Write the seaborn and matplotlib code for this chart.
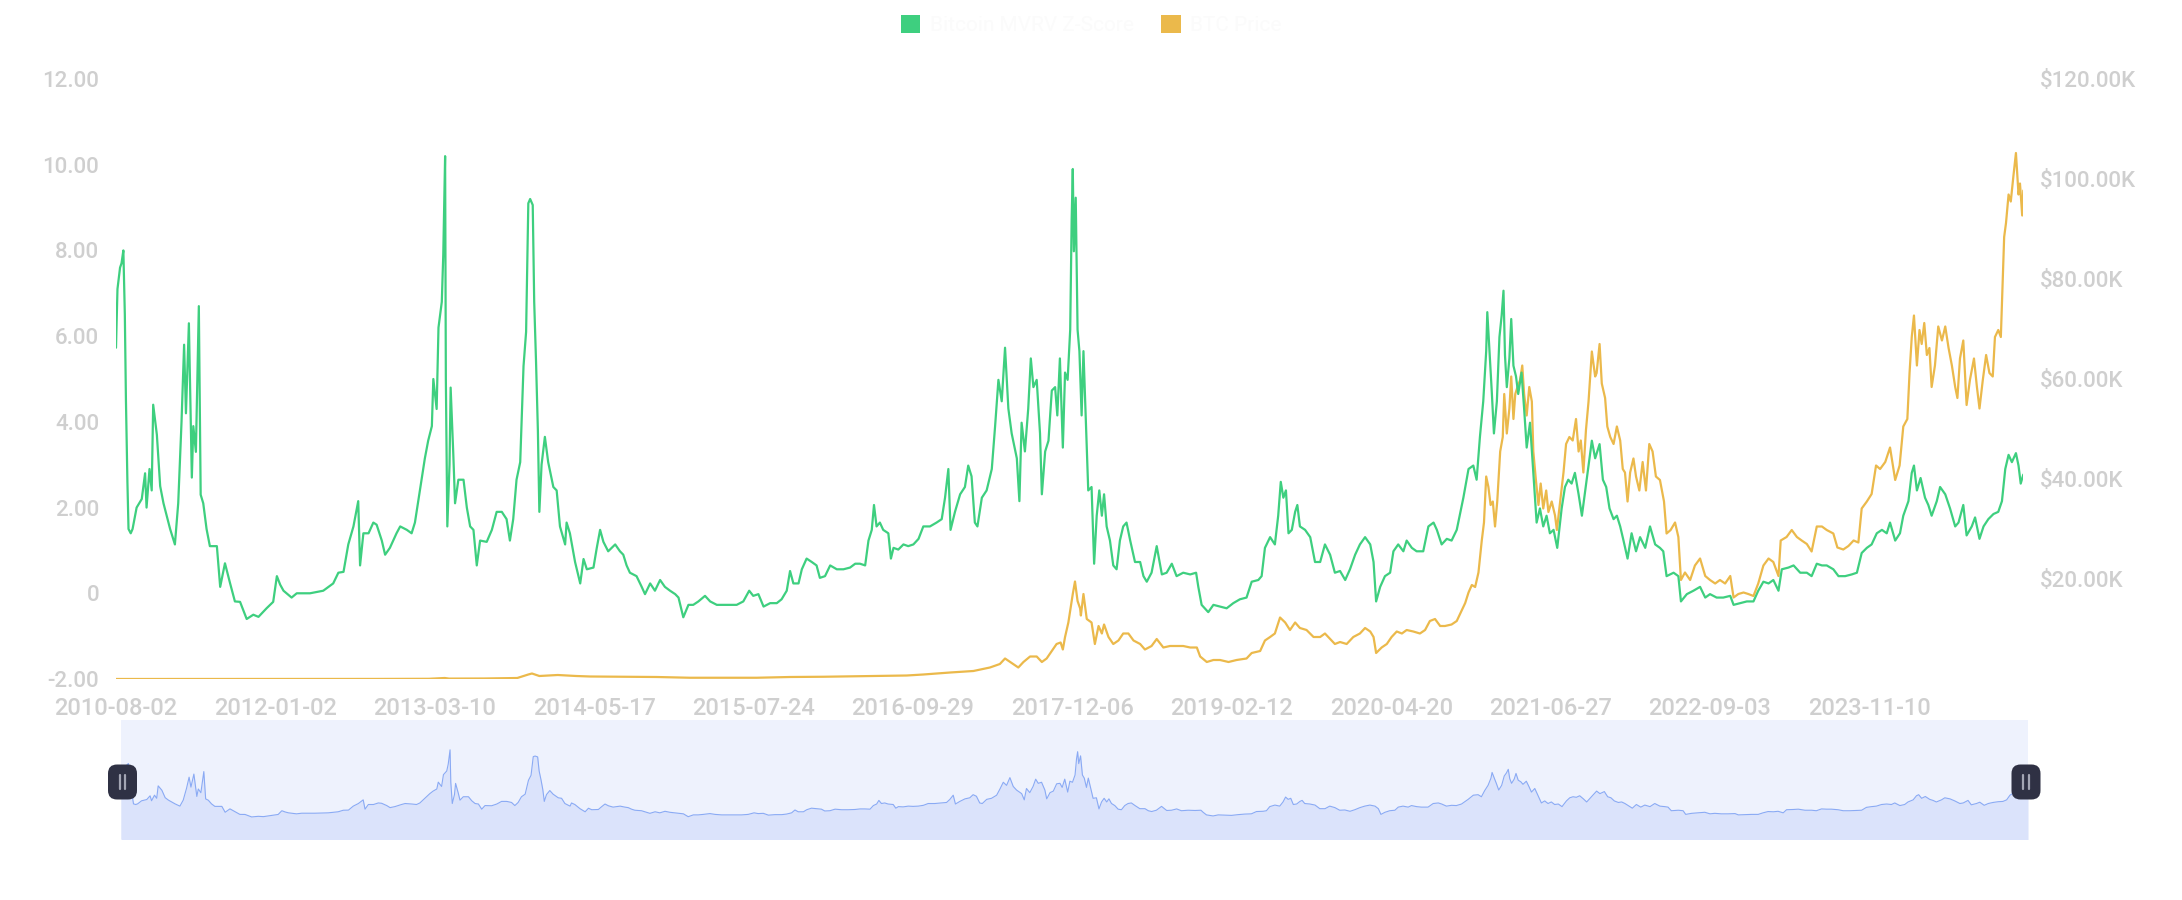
import numpy as np
import pandas as pd
import matplotlib
matplotlib.use("Agg")
import matplotlib.pyplot as plt
from matplotlib.patches import Patch, FancyBboxPatch
from matplotlib.ticker import FixedLocator, FixedFormatter
import seaborn as sns

# ---------------- data ----------------
# category index of the date axis (one category per day listed by the source)
tick_dates = ["2010-08-02", "2012-01-02", "2013-03-10", "2014-05-17", "2015-07-24",
              "2016-09-29", "2017-12-06", "2019-02-12", "2020-04-20", "2021-06-27",
              "2022-09-03", "2023-11-10"]
tick_step = 433
last_index = 5181

mvrv_idx = [0, 4, 11, 15, 20, 24, 27, 31, 34, 40, 45, 56, 70, 79, 83, 91, 97, 101, 111, 120,
            129, 138, 147, 160, 169, 178, 185, 190, 198, 206, 210, 217, 225, 230, 237, 246, 255, 274, 283, 296,
            310, 323, 337, 355, 373, 387, 409, 427, 437, 446, 455, 477, 491, 527, 563, 590, 604, 618, 631, 645,
            658, 663, 672, 686, 699, 708, 722, 731, 744, 762, 772, 790, 803, 812, 821, 830, 839, 848, 858, 862,
            871, 876, 885, 889, 894, 896, 900, 906, 909, 916, 921, 930, 944, 953, 962, 971, 980, 989, 1007, 1021,
            1034, 1048, 1061, 1070, 1079, 1088, 1098, 1107, 1114, 1120, 1125, 1132, 1136, 1141, 1146, 1150, 1156, 1165, 1174, 1188,
            1197, 1206, 1220, 1224, 1233, 1247, 1261, 1270, 1279, 1297, 1306, 1315, 1324, 1337, 1356, 1369, 1378, 1387, 1396, 1414,
            1428, 1437, 1451, 1464, 1478, 1491, 1505, 1519, 1528, 1541, 1555, 1568, 1582, 1600, 1614, 1632, 1650, 1668, 1686, 1704,
            1720, 1731, 1745, 1759, 1777, 1795, 1808, 1822, 1831, 1840, 1854, 1863, 1876, 1890, 1903, 1912, 1926, 1940, 1958, 1976,
            1994, 2008, 2021, 2035, 2044, 2053, 2059, 2066, 2075, 2084, 2098, 2105, 2112, 2125, 2139, 2152, 2166, 2180, 2193, 2211,
            2229, 2243, 2252, 2261, 2267, 2279, 2293, 2306, 2315, 2324, 2333, 2340, 2352, 2365, 2379, 2388, 2397, 2406, 2415, 2424,
            2433, 2447, 2454, 2460, 2469, 2478, 2485, 2492, 2501, 2510, 2515, 2524, 2533, 2542, 2551, 2557, 2564, 2572, 2578, 2585,
            2592, 2596, 2599, 2602, 2607, 2612, 2617, 2623, 2628, 2635, 2641, 2650, 2657, 2664, 2671, 2678, 2684, 2691, 2700, 2709,
            2718, 2727, 2736, 2745, 2755, 2768, 2782, 2791, 2800, 2813, 2827, 2841, 2854, 2868, 2881, 2899, 2918, 2934, 2940, 2949,
            2967, 2981, 2999, 3017, 3035, 3053, 3071, 3085, 3103, 3112, 3121, 3135, 3148, 3157, 3164, 3171, 3178, 3185, 3194, 3203,
            3209, 3216, 3230, 3244, 3257, 3271, 3284, 3298, 3311, 3325, 3339, 3352, 3366, 3379, 3393, 3407, 3416, 3423, 3434, 3447,
            3461, 3470, 3483, 3497, 3506, 3520, 3533, 3551, 3565, 3579, 3588, 3601, 3615, 3628, 3642, 3651, 3660, 3674, 3687, 3696,
            3705, 3714, 3722, 3725, 3731, 3737, 3743, 3751, 3758, 3764, 3769, 3773, 3778, 3785, 3790, 3796, 3803, 3809, 3818, 3825,
            3832, 3841, 3850, 3859, 3868, 3877, 3886, 3895, 3905, 3915, 3927, 3936, 3945, 3954, 3963, 3973, 3982, 3991, 4000, 4009,
            4018, 4030, 4039, 4048, 4057, 4068, 4077, 4086, 4095, 4106, 4117, 4129, 4140, 4154, 4167, 4181, 4194, 4203, 4212, 4231,
            4244, 4251, 4267, 4285, 4303, 4317, 4330, 4348, 4366, 4385, 4394, 4412, 4430, 4448, 4461, 4475, 4489, 4502, 4516, 4525,
            4543, 4557, 4575, 4593, 4606, 4620, 4634, 4647, 4665, 4679, 4697, 4715, 4729, 4742, 4756, 4769, 4783, 4797, 4810, 4819,
            4833, 4846, 4855, 4869, 4878, 4884, 4892, 4902, 4914, 4923, 4932, 4946, 4955, 4969, 4982, 4996, 5005, 5018, 5027, 5041,
            5050, 5062, 5073, 5086, 5100, 5113, 5123, 5132, 5141, 5150, 5161, 5168, 5174, 5181]
mvrv_val = [5.73, 7.1, 7.6, 7.7, 8.0, 6.5, 4.5, 2.6, 1.5, 1.4, 1.5, 2.0, 2.2, 2.8, 2.0, 2.9, 2.4, 4.4, 3.7, 2.5,
            2.1, 1.8, 1.5, 1.14, 2.1, 4.0, 5.8, 4.2, 6.3, 2.7, 3.9, 3.3, 6.7, 2.3, 2.1, 1.5, 1.1, 1.1, 0.15, 0.7,
            0.23, -0.19, -0.2, -0.6, -0.5, -0.55, -0.35, -0.2, 0.4, 0.2, 0.06, -0.1, 0.0, 0.0, 0.06, 0.23, 0.48, 0.5, 1.14, 1.56,
            2.15, 0.65, 1.4, 1.4, 1.65, 1.6, 1.23, 0.9, 1.06, 1.4, 1.56, 1.48, 1.4, 1.65, 2.15, 2.65, 3.15, 3.56, 3.9, 5.0,
            4.3, 6.2, 6.8, 7.9, 10.2, 5.0, 1.56, 3.0, 4.8, 3.3, 2.1, 2.65, 2.65, 2.0, 1.56, 1.48, 0.65, 1.23, 1.2, 1.48,
            1.9, 1.9, 1.73, 1.23, 1.73, 2.65, 3.06, 5.3, 6.1, 9.1, 9.2, 9.06, 6.8, 5.4, 3.8, 1.9, 3.0, 3.65, 3.06, 2.48,
            2.4, 1.56, 1.14, 1.65, 1.4, 0.73, 0.23, 0.8, 0.56, 0.6, 1.06, 1.48, 1.2, 0.98, 1.14, 0.98, 0.9, 0.65, 0.48, 0.4,
            0.15, -0.02, 0.23, 0.06, 0.31, 0.15, 0.06, -0.02, -0.1, -0.56, -0.27, -0.27, -0.19, -0.06, -0.19, -0.27, -0.27, -0.27, -0.27, -0.19,
            0.06, -0.06, -0.02, -0.31, -0.23, -0.23, -0.14, 0.06, 0.52, 0.23, 0.23, 0.56, 0.81, 0.73, 0.65, 0.36, 0.4, 0.65, 0.56, 0.56,
            0.6, 0.69, 0.69, 0.65, 1.23, 1.48, 2.06, 1.56, 1.65, 1.48, 1.4, 0.81, 1.06, 1.02, 1.14, 1.1, 1.14, 1.27, 1.56, 1.56,
            1.65, 1.73, 2.23, 2.9, 1.48, 1.9, 2.31, 2.48, 2.98, 2.73, 1.65, 1.56, 2.23, 2.4, 2.9, 3.9, 4.98, 4.48, 5.73, 4.31,
            3.73, 3.15, 2.15, 3.98, 3.31, 4.31, 5.48, 4.81, 4.98, 3.73, 2.31, 3.31, 3.56, 4.73, 4.81, 4.15, 5.48, 3.4, 5.15, 4.98,
            6.15, 8.73, 9.9, 7.98, 9.23, 6.15, 5.65, 4.15, 5.65, 3.9, 2.4, 2.48, 0.69, 1.81, 2.4, 1.81, 2.31, 1.56, 1.23, 0.65,
            0.56, 1.23, 1.56, 1.65, 1.23, 0.73, 0.73, 0.4, 0.27, 0.48, 1.1, 0.44, 0.48, 0.69, 0.4, 0.48, 0.44, 0.48, 0.15, -0.27,
            -0.44, -0.27, -0.31, -0.35, -0.23, -0.14, -0.1, 0.27, 0.31, 0.4, 1.06, 1.31, 1.14, 1.81, 2.6, 2.23, 2.4, 1.4, 1.48, 1.9,
            2.06, 1.56, 1.48, 1.31, 0.73, 0.73, 1.14, 0.9, 0.48, 0.52, 0.31, 0.56, 0.9, 1.14, 1.31, 1.14, 0.73, -0.19, 0.15, 0.4,
            0.48, 0.98, 1.14, 0.98, 1.23, 1.06, 0.98, 0.98, 1.56, 1.65, 1.48, 1.14, 1.27, 1.23, 1.48, 1.85, 2.23, 2.9, 2.98, 2.65,
            3.65, 4.48, 5.65, 6.56, 5.65, 4.73, 3.73, 4.48, 5.98, 6.48, 7.06, 5.56, 4.81, 5.48, 6.4, 5.31, 5.06, 4.65, 5.15, 4.31,
            3.4, 3.98, 2.81, 1.65, 1.98, 1.56, 1.81, 1.4, 1.48, 1.06, 1.98, 2.48, 2.65, 2.56, 2.81, 2.31, 1.81, 2.4, 2.98, 3.56,
            3.15, 3.48, 2.65, 2.48, 1.98, 1.73, 1.81, 1.56, 1.23, 0.81, 1.4, 0.98, 1.31, 1.06, 1.56, 1.14, 1.06, 0.98, 0.4, 0.48,
            0.4, -0.19, -0.02, 0.06, 0.15, -0.1, -0.02, -0.1, -0.1, -0.06, -0.27, -0.23, -0.19, -0.19, 0.06, 0.27, 0.23, 0.31, 0.06, 0.56,
            0.6, 0.65, 0.48, 0.48, 0.4, 0.69, 0.65, 0.65, 0.56, 0.4, 0.4, 0.44, 0.48, 0.94, 1.06, 1.14, 1.4, 1.48, 1.4, 1.65,
            1.23, 1.4, 1.81, 2.15, 2.81, 2.98, 2.4, 2.69, 2.23, 2.06, 1.81, 2.15, 2.48, 2.31, 1.98, 1.56, 1.65, 2.06, 1.35, 1.56,
            1.77, 1.27, 1.56, 1.73, 1.85, 1.9, 2.15, 2.9, 3.23, 3.06, 3.27, 2.98, 2.56, 2.77]

price_idx = [0, 150, 250, 330, 500, 700, 850, 893, 905, 1000, 1090, 1120, 1130, 1150, 1200, 1250, 1288, 1469, 1559, 1740,
             1831, 1922, 2057, 2148, 2193, 2266, 2329, 2374, 2401, 2415, 2429, 2451, 2465, 2483, 2501, 2515, 2528, 2542, 2555, 2566,
             2572, 2578, 2587, 2593, 2599, 2605, 2612, 2619, 2621, 2628, 2637, 2650, 2659, 2669, 2678, 2684, 2696, 2709, 2723, 2736,
             2750, 2764, 2782, 2795, 2813, 2827, 2845, 2863, 2881, 2899, 2918, 2936, 2945, 2963, 2981, 2999, 3022, 3044, 3071, 3085,
             3108, 3121, 3135, 3148, 3162, 3176, 3189, 3203, 3216, 3234, 3253, 3271, 3284, 3298, 3311, 3325, 3343, 3361, 3379, 3393,
             3407, 3416, 3423, 3438, 3452, 3465, 3479, 3493, 3506, 3524, 3542, 3556, 3569, 3583, 3597, 3610, 3628, 3642, 3656, 3665,
             3674, 3683, 3692, 3701, 3710, 3716, 3722, 3728, 3734, 3740, 3746, 3752, 3760, 3767, 3771, 3778, 3785, 3790, 3796, 3801,
             3807, 3814, 3820, 3825, 3832, 3839, 3846, 3850, 3857, 3864, 3870, 3877, 3885, 3891, 3900, 3909, 3914, 3923, 3932, 3939,
             3948, 3957, 3966, 3973, 3979, 3986, 3993, 4000, 4009, 4018, 4022, 4030, 4036, 4045, 4051, 4059, 4068, 4077, 4086, 4093,
             4099, 4106, 4113, 4122, 4129, 4138, 4147, 4156, 4165, 4174, 4183, 4194, 4205, 4212, 4223, 4235, 4244, 4251, 4262, 4276,
             4289, 4303, 4317, 4330, 4344, 4357, 4371, 4385, 4394, 4407, 4421, 4434, 4448, 4461, 4475, 4489, 4502, 4516, 4522, 4538,
             4552, 4566, 4579, 4593, 4606, 4620, 4634, 4647, 4665, 4676, 4692, 4706, 4720, 4733, 4742, 4756, 4769, 4781, 4792, 4806,
             4819, 4833, 4845, 4855, 4866, 4872, 4878, 4884, 4892, 4899, 4905, 4912, 4919, 4926, 4932, 4941, 4950, 4960, 4969, 4978,
             4987, 4996, 5002, 5009, 5018, 5027, 5036, 5047, 5055, 5062, 5071, 5080, 5089, 5098, 5104, 5113, 5120, 5125, 5129, 5134,
             5141, 5147, 5154, 5161, 5168, 5172, 5178, 5181]
price_val = [0.0001, 0.001, 0.015, 0.005, 0.005, 0.012, 0.04, 0.2, 0.08, 0.1, 0.2, 0.9, 1.1, 0.6, 0.8, 0.6, 0.5, 0.4, 0.25, 0.25,
             0.4, 0.45, 0.6, 0.7, 0.9, 1.3, 1.6, 2.3, 3.0, 4.1, 3.4, 2.3, 3.4, 4.5, 4.5, 3.4, 4.1, 5.6, 7.0, 7.3,
             5.9, 8.4, 11.3, 14.1, 17.0, 19.5, 15.6, 14.1, 12.7, 17.0, 12.0, 11.3, 7.0, 10.6, 9.1, 10.9, 8.4, 7.0, 7.7, 9.1,
             9.1, 7.7, 7.0, 5.9, 6.6, 8.0, 6.3, 6.6, 6.6, 6.6, 6.3, 6.3, 4.5, 3.4, 3.8, 3.8, 3.4, 3.8, 4.1, 5.2,
             5.6, 7.7, 8.4, 9.1, 12.3, 11.3, 9.8, 11.3, 10.2, 9.8, 8.4, 8.4, 9.1, 8.0, 7.0, 7.4, 7.0, 8.4, 9.1, 10.2,
             9.5, 8.4, 5.2, 6.3, 7.0, 8.4, 9.5, 9.1, 9.8, 9.5, 9.1, 9.8, 11.6, 12.0, 10.6, 10.6, 10.9, 11.6, 13.8, 15.2,
             17.3, 18.8, 18.4, 21.3, 27.7, 31.3, 40.5, 38.4, 34.8, 35.5, 30.5, 35.5, 45.5, 48.4, 57.0, 49.1, 54.1, 60.5, 52.0, 57.0,
             58.4, 59.8, 62.7, 57.0, 52.7, 58.4, 55.5, 45.5, 39.8, 34.8, 39.1, 34.1, 37.7, 33.4, 35.5, 32.7, 29.8, 35.5, 41.3, 47.0,
             48.4, 47.7, 52.0, 45.5, 47.7, 41.3, 49.8, 55.5, 65.5, 60.5, 61.2, 67.0, 59.1, 56.2, 50.5, 48.4, 47.0, 50.5, 47.7, 42.0,
             41.3, 35.5, 41.3, 44.1, 40.5, 37.7, 43.4, 37.7, 47.0, 45.5, 40.5, 39.8, 35.5, 29.1, 29.8, 31.3, 28.4, 19.8, 21.3, 19.8,
             22.7, 24.1, 20.6, 19.8, 19.1, 19.8, 19.1, 20.6, 16.3, 17.0, 17.3, 17.0, 16.6, 19.1, 22.7, 24.1, 23.4, 20.6, 27.7, 28.4,
             29.8, 28.4, 27.7, 27.0, 25.5, 30.5, 30.5, 29.8, 29.1, 26.3, 25.9, 26.6, 27.7, 27.3, 34.1, 35.5, 37.0, 42.7, 42.0, 43.4,
             46.3, 39.8, 42.7, 50.5, 52.0, 61.2, 68.4, 72.7, 62.7, 69.8, 67.0, 71.2, 64.8, 66.2, 58.4, 62.7, 70.5, 67.7, 70.5, 66.2,
             62.7, 58.4, 56.2, 64.1, 67.7, 54.8, 59.8, 64.1, 58.4, 54.1, 59.8, 64.8, 61.2, 60.5, 68.4, 69.8, 68.4, 79.8, 88.4, 91.2,
             96.9, 95.5, 100.5, 105.2, 96.9, 99.1, 92.7, 97.7]

series_names = ["Bitcoin MVRV Z-Score", "BTC Price"]
left_ticks = [-2, 0, 2, 4, 6, 8, 10, 12]
left_labels = ["-2.00", "0", "2.00", "4.00", "6.00", "8.00", "10.00", "12.00"]
right_ticks = [20, 40, 60, 80, 100, 120]
right_labels = ["$20.00K", "$40.00K", "$60.00K", "$80.00K", "$100.00K", "$120.00K"]

# ---------------- style ----------------
sns.set_theme(style="white")
plt.rcParams["font.family"] = ["Roboto", "DejaVu Sans"]

GREEN = "#3ecf7f"
GOLD = "#ebb94b"
LABEL = "#cfcfcf"
W, H = 2182, 900

fig = plt.figure(figsize=(W / 100, H / 100), dpi=100)
fig.patch.set_facecolor("white")

ax_left, ax_right_px, ax_top, ax_bot = 116, 2023.3, 79, 679
ax = fig.add_axes([ax_left / W, 1 - ax_bot / H, (ax_right_px - ax_left) / W, (ax_bot - ax_top) / H])
ax2 = ax.twinx()

df_m = pd.DataFrame({"idx": mvrv_idx, "val": mvrv_val})
df_p = pd.DataFrame({"idx": price_idx, "val": price_val})

sns.lineplot(data=df_p, x="idx", y="val", ax=ax2, color=GOLD, linewidth=1.6,
             estimator=None, sort=False, legend=False)
sns.lineplot(data=df_m, x="idx", y="val", ax=ax, color=GREEN, linewidth=1.6,
             estimator=None, sort=False, legend=False)
ax.set_zorder(ax2.get_zorder() + 1)
ax.patch.set_visible(False)

ax.set_xlim(0, last_index)
ax.set_ylim(-2, 12)
ax2.set_ylim(0, 120)

tick_pos = [i * tick_step for i in range(len(tick_dates))]
ax.xaxis.set_major_locator(FixedLocator(tick_pos))
ax.xaxis.set_major_formatter(FixedFormatter(tick_dates))
ax.yaxis.set_major_locator(FixedLocator(left_ticks))
ax.yaxis.set_major_formatter(FixedFormatter(left_labels))
ax2.yaxis.set_major_locator(FixedLocator(right_ticks))
ax2.yaxis.set_major_formatter(FixedFormatter(right_labels))

for a in (ax, ax2):
    for s in a.spines.values():
        s.set_visible(False)
    a.set_xlabel("")
    a.set_ylabel("")
    a.grid(False)

ax.tick_params(axis="x", length=0, pad=13, labelsize=17, labelcolor=LABEL)
ax.tick_params(axis="y", length=0, pad=12, labelsize=16, labelcolor=LABEL)
ax2.tick_params(axis="y", length=0, pad=12, labelsize=16, labelcolor=LABEL)
for lab in ax.get_xticklabels() + ax.get_yticklabels() + ax2.get_yticklabels():
    lab.set_fontweight("medium")

# legend (text is nearly white in the original)
handles = [Patch(facecolor=GREEN, edgecolor="none"), Patch(facecolor=GOLD, edgecolor="none")]
leg = fig.legend(handles, series_names, loc="center", bbox_to_anchor=(0.5, 1 - 25 / H),
                 ncol=2, frameon=False, fontsize=15, handlelength=0.95, handleheight=0.95,
                 handletextpad=0.45, columnspacing=1.3)
for t in leg.get_texts():
    t.set_color("#fbfbfb")

# ---------------- data-zoom slider ----------------
sl_l, sl_r, sl_t, sl_b = 121, 2028, 720, 839
axs = fig.add_axes([sl_l / W, 1 - sl_b / H, (sl_r - sl_l) / W, (sl_b - sl_t) / H])
axs.set_facecolor("#eef2fd")
sns.lineplot(data=df_m, x="idx", y="val", ax=axs, color="#8aaaf4", linewidth=0.8,
             estimator=None, sort=False, legend=False)
axs.fill_between(df_m["idx"], df_m["val"], -10, color="#dbe3fb", linewidth=0)
axs.set_xlim(0, last_index)
axs.set_ylim(-4.15, 15.0)
axs.set_xticks([])
axs.set_yticks([])
axs.set_xlabel("")
axs.set_ylabel("")
for s in axs.spines.values():
    s.set_visible(False)

# slider handles (figure pixel -> inches)
for cx in (sl_l + 1.5, sl_r - 2):
    cy = 782
    w, h = 29, 35
    box = FancyBboxPatch(((cx - w / 2 + 5) / 100, (H - cy - h / 2 + 5) / 100),
                         (w - 10) / 100, (h - 10) / 100,
                         boxstyle="round,pad=0.05,rounding_size=0.09",
                         transform=fig.dpi_scale_trans, facecolor="#2f3144",
                         edgecolor="none", zorder=10)
    fig.add_artist(box)
    for dx in (-3, 3):
        fig.add_artist(plt.Line2D([(cx + dx) / 100] * 2, [(H - cy - 7) / 100, (H - cy + 7) / 100],
                                  transform=fig.dpi_scale_trans, color="#a3a5b3",
                                  linewidth=1.6, zorder=11))

fig.savefig("out.png", dpi=100, facecolor="white")
